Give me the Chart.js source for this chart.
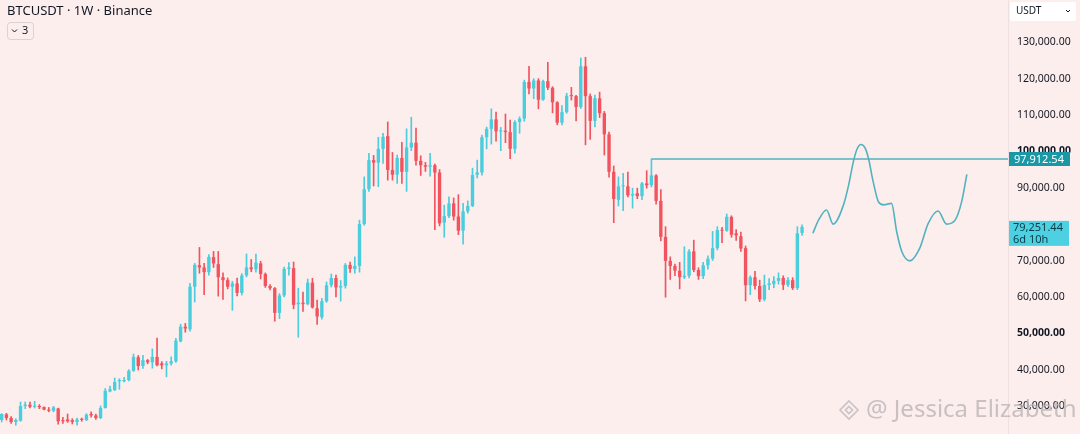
<!DOCTYPE html>
<html>
<head>
<meta charset="utf-8">
<script src="https://cdn.jsdelivr.net/npm/chart.js@4.4.1/dist/chart.umd.min.js"></script>
<style>
  html, body { margin: 0; padding: 0; background: #fdeeee; }
  #wrap { width: 1080px; height: 434px; }
</style>
</head>
<body>
<div id="wrap"><canvas id="btc" width="1080" height="434"></canvas></div>
<script>
// weekly candles, values in thousands of USDT
var opens = [
  26.15, 27.7, 26.7, 25.6, 25.96, 30.0, 30.36, 29.8, 30.0, 29.7,
  29.0, 28.7, 29.3, 26.1, 26.3, 26.1, 25.6, 26.4, 26.1, 27.8,
  27.4, 26.7, 29.45, 34.0, 34.4, 36.8, 36.8, 37.1, 39.7, 43.4,
  41.0, 42.6, 42.0, 43.5, 41.7, 41.2, 41.7, 42.3, 47.8, 51.8,
  51.1, 62.8, 68.7, 68.1, 66.8, 70.9, 69.0, 65.4, 64.6, 62.8,
  63.7, 61.1, 65.9, 68.1, 67.6, 69.2, 66.3, 63.0, 62.4, 55.6,
  60.4, 67.7, 67.9, 58.0, 58.4, 58.0, 63.9, 56.9, 54.4, 58.8,
  63.2, 65.2, 62.6, 63.0, 68.8, 67.7, 68.5, 80.0, 89.6, 97.6,
  96.9, 100.7, 104.2, 94.9, 93.6, 98.2, 94.4, 101.1, 102.4, 97.4,
  96.2, 95.8, 96.2, 94.2, 80.4, 82.2, 85.7, 82.1, 78.2, 83.5,
  85.0, 93.6, 94.2, 103.9, 106.2, 108.8, 105.5, 105.7, 105.3, 100.7,
  108.1, 109.0, 119.1, 117.3, 119.5, 114.2, 119.3, 117.5, 113.5, 107.9,
  110.8, 115.3, 115.2, 112.2, 123.4, 115.2, 108.4, 114.6, 110.5, 104.7,
  94.4, 86.7, 90.4, 90.4, 87.9, 88.5, 87.7, 91.2, 90.7, 93.4,
  86.4, 76.5, 69.9, 68.5, 67.2, 65.4, 65.8, 72.5, 67.4, 65.7,
  68.7, 70.5, 73.4, 78.4, 78.2, 82.0, 77.5, 76.7, 73.4, 63.2,
  65.4, 63.0, 59.3, 63.3, 63.5, 64.4, 65.2, 63.3, 64.6, 62.4, 77.6
];
var closes = [
  27.8, 26.7, 25.6, 26.15, 30.0, 30.36, 29.8, 30.0, 29.7, 29.0,
  28.7, 29.6, 25.8, 25.8, 25.8, 25.6, 26.3, 26.2, 27.6, 27.4,
  26.7, 29.45, 34.2, 34.6, 36.6, 37.15, 37.15, 39.7, 43.5, 41.0,
  42.6, 42.0, 43.5, 41.2, 41.2, 41.7, 42.3, 48.0, 51.8, 51.3,
  62.8, 68.8, 68.1, 66.8, 71.0, 69.2, 65.4, 64.6, 62.8, 63.7,
  61.1, 65.9, 68.1, 67.6, 69.4, 66.3, 63.0, 62.4, 55.6, 60.4,
  67.7, 68.1, 57.8, 58.4, 58.0, 63.9, 57.1, 54.6, 58.8, 63.2,
  65.2, 62.6, 63.0, 68.8, 67.7, 68.5, 80.0, 89.6, 97.6, 96.9,
  100.7, 104.0, 94.9, 93.6, 98.2, 94.4, 101.1, 102.4, 97.4, 96.2,
  95.8, 96.2, 94.2, 80.2, 82.2, 85.7, 82.1, 78.2, 83.5, 85.0,
  93.5, 94.2, 103.9, 106.2, 108.8, 105.5, 105.7, 105.3, 100.7, 108.1,
  109.0, 119.1, 117.3, 119.5, 114.2, 119.3, 117.5, 113.5, 107.9, 110.8,
  115.3, 115.2, 112.2, 123.4, 115.2, 108.4, 114.6, 110.5, 104.7, 94.4,
  86.9, 90.4, 90.5, 87.9, 88.3, 87.7, 91.2, 90.7, 93.4, 86.4,
  76.5, 69.9, 68.5, 67.2, 65.4, 65.8, 72.5, 67.4, 65.7, 68.7,
  70.5, 73.4, 78.4, 78.2, 82.0, 77.1, 76.9, 73.3, 63.2, 65.4,
  63.0, 59.3, 63.3, 63.7, 64.4, 65.2, 63.3, 64.6, 62.4, 77.5, 79.25
];
var highs = [
  27.9, 28.0, 27.06, 26.5, 31.1, 31.1, 31.1, 31.3, 30.4, 29.8,
  29.6, 29.9, 29.4, 26.9, 27.8, 26.5, 26.7, 26.7, 27.9, 28.4,
  27.8, 30.0, 34.8, 35.5, 37.7, 37.5, 37.9, 40.0, 44.3, 43.9,
  43.9, 42.8, 45.7, 48.7, 42.2, 42.3, 43.5, 48.6, 52.5, 52.7,
  63.7, 69.2, 73.6, 69.2, 71.6, 72.5, 72.5, 66.6, 65.2, 64.3,
  65.2, 66.4, 71.8, 70.3, 71.8, 69.8, 66.6, 63.4, 62.6, 60.9,
  68.2, 69.4, 69.6, 62.4, 61.3, 64.9, 65.1, 59.1, 59.6, 64.1,
  66.3, 66.0, 64.5, 69.2, 69.6, 71.0, 81.1, 93.0, 99.5, 98.9,
  103.9, 105.0, 108.1, 99.7, 99.0, 102.5, 106.2, 109.4, 106.4, 98.8,
  97.0, 99.5, 96.5, 95.0, 85.2, 87.5, 87.2, 88.1, 85.7, 86.4,
  95.4, 97.6, 104.5, 106.7, 111.7, 110.8, 106.6, 110.3, 108.6, 108.5,
  109.5, 119.6, 123.4, 120.0, 120.0, 119.6, 124.5, 117.8, 113.7, 112.6,
  116.0, 117.6, 115.4, 125.7, 125.9, 115.8, 115.5, 116.3, 111.0, 105.3,
  96.0, 93.0, 94.0, 94.3, 89.9, 89.9, 91.5, 94.7, 97.9, 93.6,
  89.5, 79.3, 71.0, 69.0, 69.5, 73.8, 73.0, 75.6, 68.0, 69.5,
  71.3, 78.0, 79.3, 79.1, 82.8, 82.3, 78.5, 77.8, 74.0, 65.8,
  67.0, 64.6, 66.0, 65.0, 65.6, 66.6, 65.8, 65.3, 65.3, 79.3, 79.8
];
var lows = [
  25.6, 26.15, 25.23, 24.7, 25.8, 29.26, 29.45, 29.45, 29.26, 28.9,
  28.4, 28.4, 25.0, 25.2, 25.5, 25.05, 24.7, 25.8, 26.0, 26.9,
  26.3, 26.5, 29.4, 33.9, 34.2, 34.6, 36.6, 36.9, 39.5, 39.9,
  40.3, 41.6, 40.4, 41.0, 40.2, 38.0, 41.2, 42.0, 47.6, 50.3,
  50.6, 58.6, 66.5, 60.6, 66.0, 68.1, 60.2, 59.3, 62.2, 56.3,
  60.3, 60.5, 65.5, 66.9, 66.8, 64.9, 62.6, 61.9, 53.3, 54.0,
  60.0, 66.0, 56.7, 48.9, 56.0, 57.8, 56.9, 52.4, 53.9, 58.5,
  62.7, 60.0, 58.8, 62.4, 66.7, 66.5, 66.8, 79.7, 89.0, 90.5,
  90.3, 96.7, 92.1, 92.1, 91.2, 91.2, 89.0, 100.2, 96.2, 93.4,
  94.5, 93.2, 78.5, 79.5, 76.4, 81.8, 81.1, 77.1, 74.5, 83.0,
  84.8, 92.7, 93.5, 100.7, 102.0, 102.8, 100.2, 102.4, 98.0, 99.5,
  105.0, 108.3, 115.8, 114.5, 111.7, 114.0, 117.0, 110.6, 107.3, 107.3,
  110.5, 114.1, 108.4, 111.8, 101.8, 103.3, 106.7, 109.3, 99.0, 92.9,
  80.4, 85.0, 83.7, 87.5, 84.4, 87.0, 86.7, 89.9, 90.2, 85.5,
  75.4, 59.9, 64.8, 65.8, 62.2, 65.0, 65.2, 66.9, 64.8, 65.0,
  67.6, 70.0, 72.9, 74.9, 78.0, 76.4, 75.5, 72.5, 58.9, 60.6,
  62.1, 58.7, 58.9, 62.0, 62.5, 63.5, 62.0, 62.8, 62.0, 62.0, 76.9
];

// hand-drawn projection, in week slots after the last candle
var pathWeeks = [172.3, 173.5, 175.2, 176.6, 178.8, 179.9, 180.9, 181.6, 182.5, 183.4, 184.1, 185.1, 186.2, 187.3, 189.0, 190.1, 191.2, 192.9, 195.0, 196.8, 198.9, 200.7, 202.5, 203.9, 205.0];
var pathPrices = [77.5, 81.1, 83.9, 80.0, 85.3, 90.8, 97.2, 100.4, 101.9, 100.9, 98.1, 91.7, 86.2, 85.3, 85.7, 77.9, 72.4, 69.9, 73.4, 80.2, 83.6, 80.0, 81.1, 86.2, 93.7];

var levelStart = 138;
var levelPrice = 97.91254;
var lastPrice = 79.25144;
// 80,000 is hidden under the last-price tag
var yTicks = [30, 40, 50, 60, 70, 90, 100, 110, 120, 130];
var boldTicks = [50, 100];

var UP = '#4acddd';
var DOWN = '#f1545e';
var LINE = '#52b2bf';
var X_MIN = -0.36, X_MAX = 213.74;

var bodies = [], wicks = [];
for (var i = 0; i < opens.length; i++) {
  bodies.push({ x: i, y: [opens[i], closes[i]] });
  wicks.push({ x: i, y: [lows[i], highs[i]] });
}
var path = pathWeeks.map(function (w, k) { return { x: w, y: pathPrices[k] }; });

function candleColor(ctx) {
  var k = ctx.dataIndex;
  return closes[k] >= opens[k] ? UP : DOWN;
}

function fmt(v) {
  return (v * 1000).toLocaleString('en-US', { minimumFractionDigits: 2, maximumFractionDigits: 2 });
}

var decor = {
  id: 'decor',
  beforeDraw: function (chart) {
    var c = chart.ctx;
    c.save();
    c.fillStyle = '#fdeeee';
    c.fillRect(0, 0, chart.width, chart.height);
    c.restore();
  },
  afterDraw: function (chart) {
    var c = chart.ctx;
    var y = chart.scales.y;
    var right = chart.chartArea.right;
    c.save();

    // header
    c.fillStyle = '#131722';
    c.font = '13px "Noto Sans", sans-serif';
    c.textBaseline = 'middle';
    c.textAlign = 'left';
    c.fillText('BTCUSDT \u00b7 1W \u00b7 Binance', 7, 11);

    c.strokeStyle = 'rgba(0,0,0,0.12)';
    c.lineWidth = 1;
    c.beginPath();
    c.roundRect(7.5, 22.5, 26, 17, 3);
    c.stroke();
    c.beginPath();
    c.moveTo(12, 29.5); c.lineTo(14.5, 32); c.lineTo(17, 29.5);
    c.strokeStyle = '#131722';
    c.stroke();
    c.font = '11px "Noto Sans", sans-serif';
    c.fillText('3', 22, 31);

    // currency box
    c.fillStyle = '#ffffff';
    c.beginPath();
    c.roundRect(1010, 2, 66, 19, 2);
    c.fill();
    c.fillStyle = '#131722';
    c.font = '10px "Noto Sans", sans-serif';
    c.fillText('USDT', 1016, 11.5);
    c.beginPath();
    c.moveTo(1066, 10); c.lineTo(1068, 12); c.lineTo(1070, 10);
    c.strokeStyle = '#131722';
    c.stroke();

    // level label
    var ly = y.getPixelForValue(levelPrice);
    c.fillStyle = '#1a98a5';
    c.fillRect(right + 1, ly - 7, 61, 14);
    c.fillStyle = '#ffffff';
    c.font = '11px "Noto Sans", sans-serif';
    c.fillText(fmt(levelPrice), right + 6, ly + 0.5);

    // last price label
    var py = y.getPixelForValue(lastPrice);
    c.fillStyle = '#4dd0e1';
    c.fillRect(right + 1, py - 6, 60, 25);
    c.fillStyle = '#0d3b44';
    c.fillText(fmt(lastPrice), right + 5, py + 1);
    c.fillText('6d 10h', right + 5, py + 12.5);

    // watermark
    c.globalAlpha = 0.8;
    c.strokeStyle = '#bdb7b8';
    c.lineWidth = 1.6;
    var cx = 849, cy = 410;
    c.beginPath();
    c.moveTo(cx, cy - 9); c.lineTo(cx + 9, cy); c.lineTo(cx, cy + 9); c.lineTo(cx - 9, cy); c.closePath();
    c.stroke();
    c.beginPath();
    c.moveTo(cx, cy - 3.5); c.lineTo(cx + 3.5, cy); c.lineTo(cx, cy + 3.5); c.lineTo(cx - 3.5, cy); c.closePath();
    c.stroke();
    c.fillStyle = '#bab4b5';
    c.font = '24px "Noto Sans", sans-serif';
    c.fillText('@ Jessica Elizabeth', 866, 410);
    c.restore();
  }
};

var config = {
  data: {
    datasets: [
      {
        type: 'line',
        data: [{ x: levelStart, y: levelPrice }, { x: X_MAX, y: levelPrice }],
        borderColor: LINE,
        borderWidth: 1.4,
        pointRadius: 0
      },
      {
        type: 'line',
        data: path,
        borderColor: LINE,
        borderWidth: 1.6,
        pointRadius: 0,
        tension: 0.4,
        cubicInterpolationMode: 'monotone'
      },
      {
        type: 'bar',
        data: bodies,
        grouped: false,
        backgroundColor: candleColor,
        barPercentage: 0.72,
        categoryPercentage: 1,
        minBarLength: 1
      },
      {
        type: 'bar',
        data: wicks,
        grouped: false,
        backgroundColor: candleColor,
        barThickness: 1
      }
    ]
  },
  options: {
    responsive: false,
    animation: false,
    layout: { padding: 0 },
    plugins: {
      legend: { display: false },
      tooltip: { enabled: false }
    },
    scales: {
      x: {
        type: 'linear',
        min: X_MIN,
        max: X_MAX,
        offset: false,
        display: false
      },
      y: {
        type: 'linear',
        position: 'right',
        min: 22.3,
        max: 141.63,
        grid: { display: false, drawTicks: false },
        border: { display: true, color: 'rgba(0,0,0,0.06)' },
        afterFit: function (scale) {
          scale.width = 72;
          scale.paddingTop = 0;
          scale.paddingBottom = 0;
        },
        afterBuildTicks: function (scale) {
          scale.ticks = yTicks.map(function (v) { return { value: v }; });
        },
        ticks: {
          padding: 9,
          color: '#131722',
          font: function (ctx) {
            var bold = ctx.tick && boldTicks.indexOf(ctx.tick.value) >= 0;
            return { family: '"Noto Sans", sans-serif', size: 10.5, weight: bold ? 'bold' : 'normal' };
          },
          callback: function (v) { return fmt(v); }
        }
      }
    }
  },
  plugins: [decor]
};

var chart = new Chart(document.getElementById('btc'), config);
</script>
</body>
</html>
